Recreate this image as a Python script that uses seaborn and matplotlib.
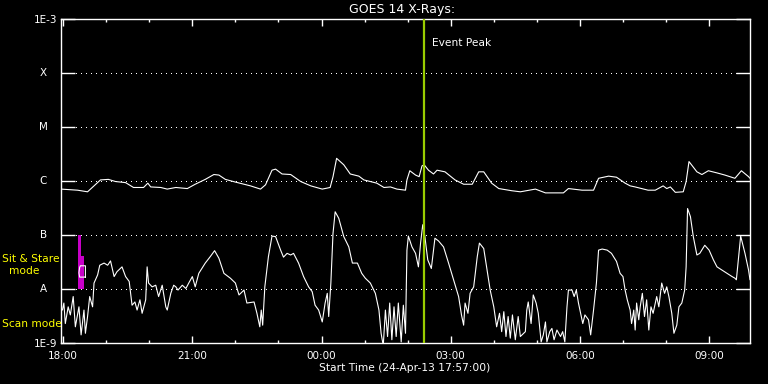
import numpy as np
import pandas as pd
import matplotlib
matplotlib.use("Agg")
import matplotlib.pyplot as plt
import matplotlib.transforms as mtransforms
from matplotlib.ticker import NullLocator, FixedLocator
import seaborn as sns

# ---- data (time in minutes after 18:00 UT, 24-Apr-13; window starts 17:57) ----
long_minutes = [-3, 20, 34, 52, 63, 73, 87, 98, 112, 118,
                122, 136, 145, 157, 173, 184, 198, 210, 217, 226,
                240, 261, 275, 282, 291, 296, 305, 317, 331, 345,
                361, 372, 376, 381, 391, 400, 412, 419, 437, 447,
                456, 465, 477, 479, 483, 491, 496, 500, 503, 509,
                516, 521, 532, 546, 558, 570, 579, 586, 597, 607,
                625, 637, 658, 672, 697, 704, 723, 739, 746, 760,
                771, 783, 790, 797, 815, 825, 836, 841, 846, 853,
                864, 868, 872, 883, 890, 899, 911, 922, 936, 945,
                955, 957]
long_logflux = [-6.15, -6.17, -6.20, -5.98, -5.97, -6.01, -6.03, -6.12, -6.12, -6.04,
                -6.11, -6.12, -6.15, -6.12, -6.14, -6.06, -5.97, -5.88, -5.89, -5.97,
                -6.02, -6.09, -6.15, -6.07, -5.80, -5.78, -5.87, -5.88, -6.01, -6.09,
                -6.15, -6.12, -5.92, -5.58, -5.70, -5.87, -5.91, -5.98, -6.04, -6.12,
                -6.11, -6.15, -6.17, -5.98, -5.81, -5.89, -5.92, -5.72, -5.70, -5.80,
                -5.87, -5.80, -5.83, -5.98, -6.06, -6.06, -5.83, -5.83, -6.04, -6.14,
                -6.18, -6.20, -6.15, -6.22, -6.22, -6.14, -6.17, -6.17, -5.95, -5.91,
                -5.93, -6.04, -6.09, -6.11, -6.17, -6.17, -6.09, -6.14, -6.11, -6.21,
                -6.20, -6.01, -5.64, -5.83, -5.88, -5.81, -5.85, -5.89, -5.95, -5.81,
                -5.92, -5.95]

short_minutes = [-1, 1, 3, 7, 10, 14, 17, 22, 25, 29,
                 31, 34, 37, 41, 43, 48, 51, 57, 62, 66,
                 71, 75, 82, 87, 92, 96, 100, 103, 107, 110,
                 115, 117, 119, 124, 129, 133, 138, 143, 145, 150,
                 154, 157, 160, 166, 171, 175, 180, 184, 189, 198,
                 205, 211, 217, 224, 233, 240, 245, 252, 256, 266,
                 270, 274, 276, 278, 281, 286, 291, 296, 303, 307,
                 312, 317, 321, 328, 335, 342, 347, 351, 356, 361,
                 365, 368, 370, 373, 376, 379, 384, 391, 398, 403,
                 410, 416, 421, 428, 435, 440, 443, 446, 449, 452,
                 455, 458, 461, 464, 467, 471, 474, 477, 479, 481,
                 486, 491, 495, 498, 501, 504, 508, 513, 518, 523,
                 530, 537, 544, 551, 555, 558, 560, 564, 567, 572,
                 577, 580, 586, 590, 595, 600, 604, 608, 611, 614,
                 617, 620, 623, 626, 630, 634, 637, 644, 646, 648,
                 652, 655, 659, 662, 666, 669, 672, 674, 678, 681,
                 684, 688, 693, 696, 699, 702, 704, 709, 712, 715,
                 718, 720, 724, 727, 732, 735, 739, 743, 746, 751,
                 758, 764, 771, 776, 780, 783, 786, 790, 792, 795,
                 797, 799, 802, 804, 807, 810, 813, 816, 819, 822,
                 827, 830, 834, 838, 841, 844, 848, 851, 855, 858,
                 862, 866, 868, 870, 874, 878, 883, 887, 894, 900,
                 906, 911, 918, 925, 932, 936, 938, 942, 944, 950,
                 955, 957]
short_logflux = [-8.39, -8.26, -8.64, -8.33, -8.48, -8.14, -8.70, -8.33, -8.85, -8.39,
                 -8.82, -8.51, -8.14, -8.33, -7.89, -7.74, -7.56, -7.52, -7.56, -7.48,
                 -7.77, -7.68, -7.59, -7.77, -7.86, -8.30, -8.24, -8.39, -8.20, -8.45,
                 -8.20, -7.59, -7.89, -7.96, -7.93, -8.14, -7.93, -8.33, -8.39, -8.08,
                 -7.93, -7.96, -8.02, -7.93, -7.99, -7.89, -7.77, -7.96, -7.71, -7.52,
                 -7.40, -7.29, -7.43, -7.71, -7.80, -7.89, -8.11, -8.02, -8.26, -8.24,
                 -8.45, -8.70, -8.39, -8.67, -7.96, -7.40, -7.02, -7.03, -7.28, -7.41,
                 -7.34, -7.37, -7.34, -7.52, -7.77, -7.96, -8.05, -8.30, -8.39, -8.61,
                 -8.26, -8.08, -8.51, -7.89, -6.97, -6.57, -6.69, -7.03, -7.22, -7.52,
                 -7.52, -7.71, -7.80, -7.89, -8.08, -8.39, -8.82, -9.05, -8.39, -8.88,
                 -8.26, -8.94, -8.33, -8.88, -8.26, -8.98, -8.30, -8.82, -7.28, -7.02,
                 -7.22, -7.34, -7.59, -7.15, -6.81, -7.03, -7.46, -7.62, -7.06, -7.11,
                 -7.22, -7.52, -7.83, -8.14, -8.48, -8.67, -8.26, -8.45, -8.08, -7.96,
                 -7.40, -7.15, -7.25, -7.59, -8.02, -8.33, -8.70, -8.45, -8.79, -8.42,
                 -8.88, -8.51, -8.91, -8.48, -8.94, -8.51, -8.88, -8.79, -8.39, -8.24,
                 -8.64, -8.11, -8.26, -8.45, -8.98, -8.85, -8.61, -8.98, -8.79, -8.73,
                 -8.94, -8.76, -8.88, -8.79, -8.98, -8.33, -8.02, -8.02, -8.14, -8.02,
                 -8.26, -8.39, -8.64, -8.48, -8.57, -8.85, -8.39, -7.89, -7.28, -7.26,
                 -7.28, -7.34, -7.49, -7.71, -7.77, -8.02, -8.20, -8.39, -8.64, -8.39,
                 -8.76, -8.26, -8.57, -8.33, -8.08, -8.51, -8.20, -8.76, -8.33, -8.45,
                 -8.14, -8.33, -7.89, -8.08, -7.96, -8.14, -8.45, -8.82, -8.67, -8.33,
                 -8.26, -8.02, -7.59, -6.51, -6.66, -7.03, -7.37, -7.34, -7.19, -7.28,
                 -7.46, -7.59, -7.65, -7.71, -7.77, -7.80, -7.83, -7.28, -7.02, -7.34,
                 -7.65, -7.83]

# small detached loop drawn near the start of the short channel
loop_minutes = [31, 23, 22, 23, 24, 31, 31]
loop_logflux = [-7.78, -7.78, -7.70, -7.60, -7.57, -7.57, -7.78]

# sit & stare mode indicator (minutes, upper flux)
sit_stare_edges = [20.6, 24.8, 29.0]
sit_stare_tops = [1e-7, 10 ** -7.39]
sit_stare_base = 1e-8

event_peak_minute = 503

class_levels = [1e-9, 1e-8, 1e-7, 1e-6, 1e-5, 1e-4, 1e-3]
class_labels = ["1E-9", "A", "B", "C", "M", "X", "1E-3"]
hour_ticks = list(range(0, 960, 60))
label_ticks = [0, 180, 360, 540, 720, 900]
label_texts = ["18:00", "21:00", "00:00", "03:00", "06:00", "09:00"]

# ---- plotting ----
sns.set_style("dark", rc={"axes.facecolor": "black", "figure.facecolor": "black"})
plt.rcParams["font.family"] = ["DejaVu Sans"]

fig = plt.figure(figsize=(7.68, 3.84), dpi=100, facecolor="black")
ax = fig.add_axes([61 / 768, 41 / 384, 689 / 768, 324 / 384])
ax.set_facecolor("black")

df_long = pd.DataFrame({"minute": long_minutes, "flux": 10 ** np.array(long_logflux)})
df_short = pd.DataFrame({"minute": short_minutes, "flux": 10 ** np.array(short_logflux)})
df_loop = pd.DataFrame({"minute": loop_minutes, "flux": 10 ** np.array(loop_logflux)})

ax.set_yscale("log")
ax.set_xlim(-3, 957)
ax.set_ylim(1e-9, 1e-3)

# dotted class lines
for lev in class_levels[1:-1]:
    ax.axhline(lev, color="white", lw=0.72, ls=(0, (1, 5)), zorder=1,
               antialiased=False)

# sit & stare bars
for i in range(2):
    ax.fill_between([sit_stare_edges[i], sit_stare_edges[i + 1]], sit_stare_base,
                    sit_stare_tops[i], color="#c800c8", lw=0, zorder=2)

sns.lineplot(data=df_long, x="minute", y="flux", ax=ax, color="white", lw=0.8,
             sort=False, estimator=None, zorder=3)
sns.lineplot(data=df_short, x="minute", y="flux", ax=ax, color="white", lw=0.8,
             sort=False, estimator=None, zorder=3)
sns.lineplot(data=df_loop, x="minute", y="flux", ax=ax, color="white", lw=0.8,
             sort=False, estimator=None, zorder=3)

ax.axvline(event_peak_minute, color="#99cc00", lw=1.6, zorder=4)
ax.text(event_peak_minute + 11, 10 ** -3.44, "Event Peak", color="white",
        fontsize=7.7, ha="left", va="center")

# axes styling
for sp in ax.spines.values():
    sp.set_visible(True)
    sp.set_color("white")
    sp.set_linewidth(1.0)
ax.grid(False)
ax.set_xlabel("")
ax.set_ylabel("")

ax.xaxis.set_major_locator(FixedLocator(label_ticks))
ax.set_xticklabels(label_texts)
ax.xaxis.set_minor_locator(FixedLocator([t for t in hour_ticks if t not in label_ticks]))
ax.tick_params(axis="x", which="major", direction="in", length=5, width=1,
               top=True, bottom=True, color="white", labelcolor="white",
               labelsize=7.5, pad=6)
ax.tick_params(axis="x", which="minor", direction="in", length=2.3, width=1,
               top=True, bottom=True, color="white")

ax.set_yticks(class_levels)
ax.set_yticklabels([class_labels[0], "", "", "", "", "", class_labels[-1]])
ax.yaxis.set_minor_locator(NullLocator())
ax.tick_params(axis="y", which="major", direction="in", length=10, width=1,
               left=True, right=True, color="white", labelcolor="white",
               labelsize=7.5, pad=3)

trans = mtransforms.blended_transform_factory(ax.transAxes, ax.transData)
for lev, lab in zip(class_levels[1:-1], class_labels[1:-1]):
    ax.text(-0.026, lev, lab, transform=trans, color="white", fontsize=7.5,
            ha="center", va="center")

fig.text(402 / 768, 1 - 10 / 384, "GOES 14 X-Rays:", color="white", fontsize=9,
         ha="center", va="center")
fig.text(405 / 768, 1 - 368 / 384, "Start Time (24-Apr-13 17:57:00)", color="white",
         fontsize=7.7, ha="center", va="center")

fig.text(2 / 768, 1 - 259 / 384, "Sit & Stare", color="#ffff00", fontsize=7.7,
         ha="left", va="center")
fig.text(24 / 768, 1 - 271 / 384, "mode", color="#ffff00", fontsize=7.7,
         ha="center", va="center")
fig.text(2 / 768, 1 - 324 / 384, "Scan mode", color="#ffff00", fontsize=7.7,
         ha="left", va="center")

legend = ax.get_legend()
if legend is not None:
    legend.remove()

fig.savefig("out.png", dpi=100, facecolor="black")
